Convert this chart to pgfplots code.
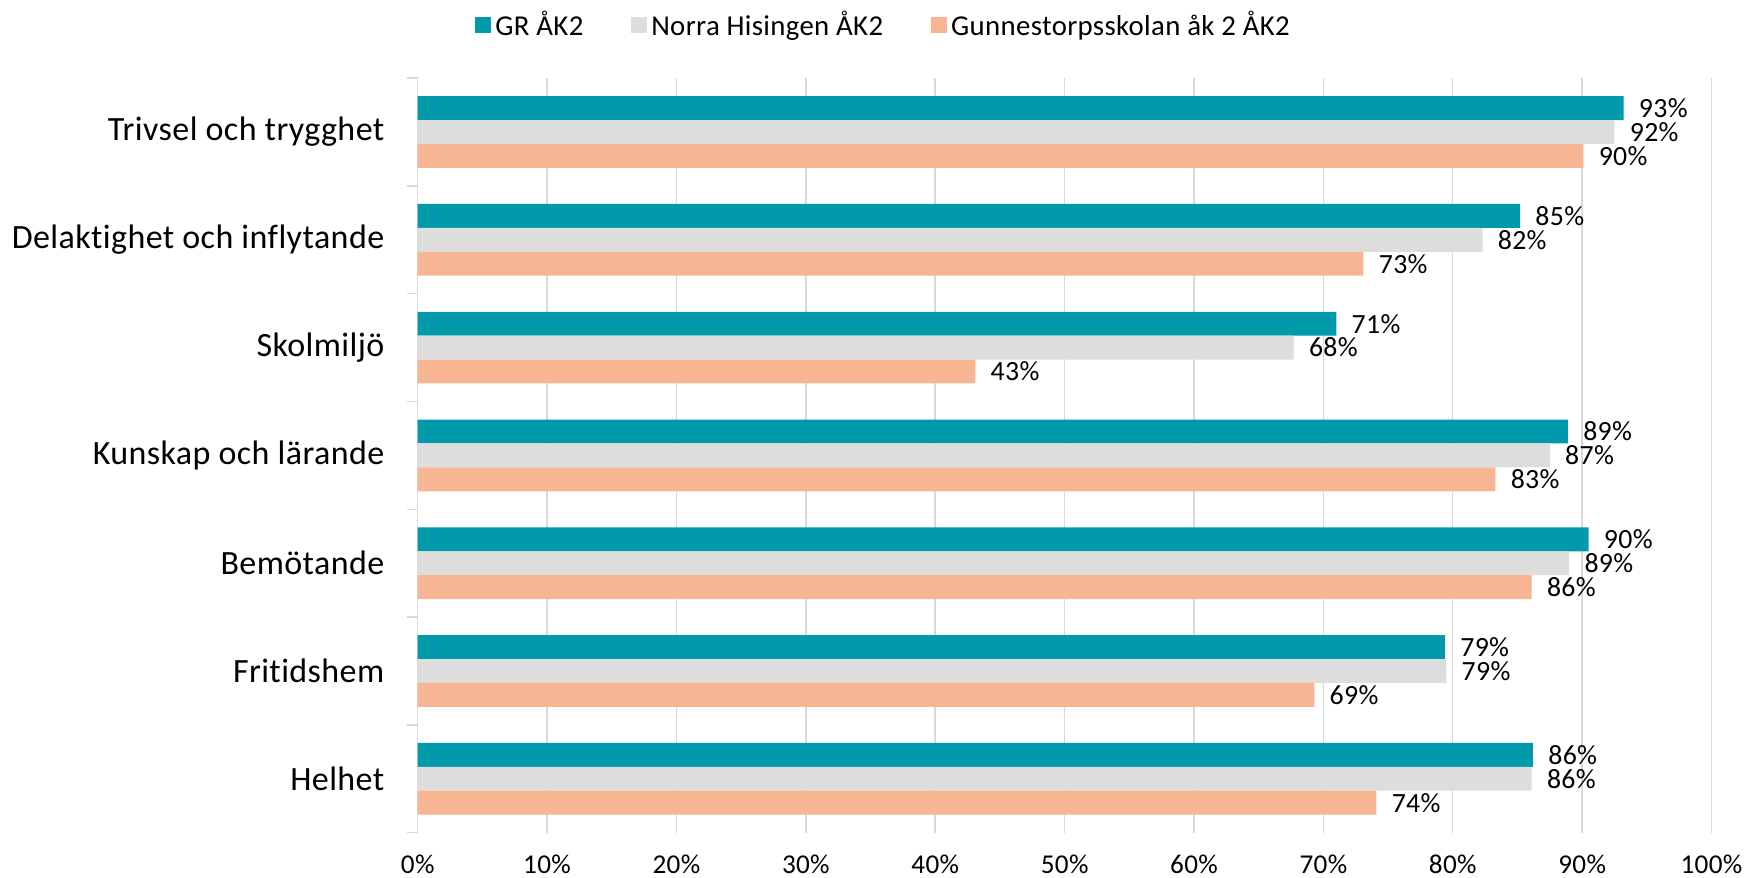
\documentclass[border=0pt]{standalone}
\usepackage{fontspec}
\setmainfont{Carlito}[LetterSpace=1.2, Ligatures=NoCommon]
\usepackage{pgfplots}
\pgfplotsset{compat=1.18}
\definecolor{teal1}{HTML}{009AAB}
\definecolor{gray1}{HTML}{DDDDDD}
\definecolor{peach}{HTML}{F8B593}
\definecolor{axgray}{HTML}{D9D9D9}
\begin{document}
\begin{tikzpicture}
\useasboundingbox (-208.85pt,-22.65pt) rectangle (664.15pt,416.35pt);
\begin{axis}[
  at={(0pt,0pt)}, anchor=south west,
  scale only axis, width=646.9pt, height=377.3pt,
  xbar, bar width=11.95pt,
  xmin=0, xmax=100, ymin=-0.5, ymax=6.5,
  xtick={0,10,...,100},
  xticklabels={0\%,10\%,20\%,30\%,40\%,50\%,60\%,70\%,80\%,90\%,100\%},
  ytick={0,...,6},
  yticklabels={Helhet, Fritidshem, Bemötande, Kunskap och lärande, Skolmiljö, Delaktighet och inflytande, Trivsel och trygghet},
  minor ytick={-0.5,0.5,...,6.5},
  axis lines*=left,
  x axis line style={draw=none},
  y axis line style={draw=axgray, line width=0.75pt},
  major tick length=0pt, minor tick length=5.5pt, tick align=outside,
  minor tick style={draw=axgray, line width=0.75pt},
  xmajorgrids, major grid style={draw=axgray, line width=0.75pt},
  xticklabel style={font=\fontsize{13.6}{16}\selectfont, inner sep=0pt, anchor=north, yshift=-11pt},
  yticklabel style={font=\fontsize{17}{20}\selectfont, inner sep=0pt, anchor=east, xshift=-16.5pt},
  nodes near coords, point meta=explicit symbolic,
  nodes near coords style={font=\fontsize{13.9}{16}\selectfont, anchor=west, inner sep=0pt, xshift=7.5pt, text=black},
  legend columns=3,
  legend style={draw=none, fill=none, at={(0.0443,1.071)}, anchor=west, inner sep=0pt,
    font=\fontsize{14.4}{17}\selectfont,
    /tikz/every even column/.append style={column sep=22pt}},
  legend image code/.code={\draw[#1, draw=none] (0pt,-4pt) rectangle (8pt,4pt);},
]
\addplot[fill=teal1, draw=none, bar shift=11.95pt] coordinates {
  (93.2,6) [93\%] (85.2,5) [85\%] (71.0,4) [71\%] (88.9,3) [89\%]
  (90.5,2) [90\%] (79.4,1) [79\%] (86.2,0) [86\%]};
\addplot[fill=gray1, draw=none, bar shift=0pt] coordinates {
  (92.5,6) [92\%] (82.3,5) [82\%] (67.7,4) [68\%] (87.5,3) [87\%]
  (89.0,2) [89\%] (79.5,1) [79\%] (86.1,0) [86\%]};
\addplot[fill=peach, draw=none, bar shift=-11.95pt] coordinates {
  (90.1,6) [90\%] (73.1,5) [73\%] (43.1,4) [43\%] (83.3,3) [83\%]
  (86.1,2) [86\%] (69.3,1) [69\%] (74.1,0) [74\%]};
\legend{GR ÅK2, Norra Hisingen ÅK2, Gunnestorpsskolan åk 2 ÅK2}
\end{axis}
\end{tikzpicture}
\end{document}
